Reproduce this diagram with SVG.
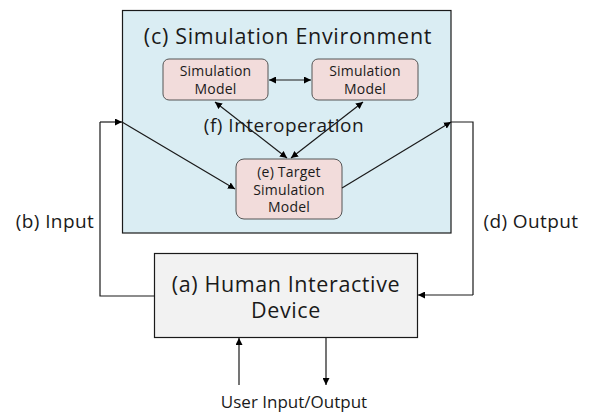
<svg xmlns="http://www.w3.org/2000/svg" width="591" height="415" viewBox="0 0 591 415">
  <defs>
    <marker id="arr" viewBox="0 0 10 10" refX="10" refY="5" markerWidth="7" markerHeight="7" markerUnits="userSpaceOnUse" orient="auto-start-reverse">
      <path d="M0,0 L10,5 L0,10 z" fill="#000"/>
    </marker>
    <style>
      text { font-family: "Open Sans", "Noto Sans", sans-serif; fill: #1a1a1a; text-anchor: middle; }
      .env { fill: #daedf3; stroke: #1a1a1a; stroke-width: 1.2; }
      .model { fill: #f2dcdb; stroke: #555; stroke-width: 1; }
      .device { fill: #f2f2f2; stroke: #1a1a1a; stroke-width: 1.2; }
      .big { font-size: 21.5px; letter-spacing: 0.7px; }
      .dev { font-size: 21.5px; letter-spacing: 0.6px; }
      .mid { font-size: 19px; letter-spacing: 0.5px; }
      .small { font-size: 14px; letter-spacing: 0.2px; }
      .lbl { font-size: 19px; letter-spacing: 0.4px; }
      .user { font-size: 17px; }
      .wire { fill: none; stroke: #1a1a1a; stroke-width: 1.2; }
      .link { fill: none; stroke: #1a1a1a; stroke-width: 1.2; marker-end: url(#arr); }
      .dlink { fill: none; stroke: #1a1a1a; stroke-width: 1.2; marker-start: url(#arr); marker-end: url(#arr); }
    </style>
  </defs>

  <!-- simulation environment container -->
  <g id="env">
    <rect class="env" x="122.5" y="10.5" width="328.5" height="222.5"/>
    <text class="big" x="288" y="44">(c) Simulation Environment</text>
    <text class="mid" x="284" y="131.5">(f) Interoperation</text>
  </g>

  <g id="model1">
    <rect class="model" x="163" y="59" width="105" height="41" rx="6"/>
    <text class="small" x="215.5" y="76">Simulation</text>
    <text class="small" x="215.5" y="94">Model</text>
  </g>

  <g id="model2">
    <rect class="model" x="312" y="59" width="106" height="41" rx="6"/>
    <text class="small" x="365" y="76">Simulation</text>
    <text class="small" x="365" y="94">Model</text>
  </g>

  <g id="target">
    <rect class="model" x="236" y="159" width="106" height="60" rx="8"/>
    <text class="small" x="289" y="177">(e) Target</text>
    <text class="small" x="289" y="194.5">Simulation</text>
    <text class="small" x="289" y="212">Model</text>
  </g>

  <g id="device">
    <rect class="device" x="154.5" y="253.5" width="263" height="84"/>
    <text class="dev" x="286" y="291.5">(a) Human Interactive</text>
    <text class="dev" x="286" y="318">Device</text>
  </g>

  <g id="labels">
    <text class="lbl" x="55" y="228">(b) Input</text>
    <text class="lbl" x="531" y="228">(d) Output</text>
    <text class="user" x="294" y="408">User Input/Output</text>
  </g>

  <g id="connectors">
    <!-- interoperation links -->
    <path class="dlink" d="M269,80 L311,80"/>
    <path class="dlink" d="M215,102 L287,158"/>
    <path class="dlink" d="M363,102 L291,158"/>
    <!-- input path -->
    <path class="wire" d="M154.5,296 L100,296 L100,122"/>
    <path class="link" d="M100,122 L122,122"/>
    <path class="link" d="M122,122 L235,189"/>
    <!-- output path -->
    <path class="link" d="M342,188 L451,122"/>
    <path class="wire" d="M451,122 L473,122 L473,295"/>
    <path class="link" d="M473,295 L418,295"/>
    <!-- user side -->
    <path class="link" d="M239,385 L239,338"/>
    <path class="link" d="M326,338 L326,385"/>
  </g>
</svg>
